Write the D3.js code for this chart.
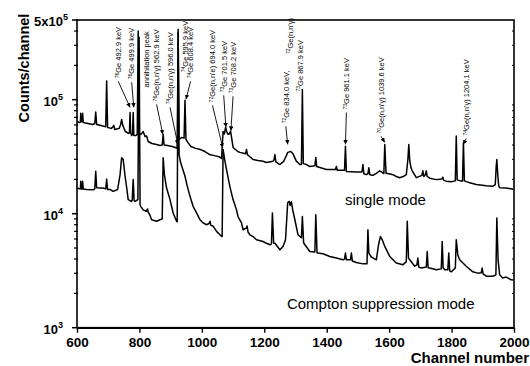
<!DOCTYPE html>
<html>
<head>
<meta charset="utf-8">
<script src="https://cdn.jsdelivr.net/npm/d3@7/dist/d3.min.js"></script>
<style>
  body { margin: 0; background: #fff; }
  svg { display: block; font-family: "Liberation Sans", Arial, sans-serif; }
  .tick-label { font-size: 13.5px; font-weight: bold; }
  .axis-title { font-weight: bold; }
  .mode-label { font-size: 15px; }
  .peak-label { font-size: 7.5px; }
</style>
</head>
<body>
<div id="chart"></div>
<script>
// Gamma spectrum: single mode vs Compton suppression mode

// [channel, counts/channel]
const singleSpectrum = [
  [600,64500],[608,63000],[611,63500],[612,76000],[614,64500],[617,64000],[618,76000],[620,63000],
  [635,61800],[650,60600],[657,61800],[660,78000],[663,60600],[680,59000],[692,58000],[695,146000],
  [698,57100],[710,56000],[716,58000],[718,59500],[721,54800],[735,56000],[740,60600],[743,67100],
  [747,59000],[755,52600],[765,50600],[768,51000],[770,77300],[772,51600],[775,48500],[778,50000],
  [780,77300],[782,48500],[789,48500],[793,49600],[796,400000],[799,50600],[805,49600],[812,52600],
  [818,47500],[823,48000],[828,43000],[840,41300],[855,40500],[866,39700],[873,40000],[876,49600],
  [879,40000],[890,39700],[905,38900],[915,38100],[921,37400],[924,391000],[927,44800],[935,46600],
  [943,46000],[946,98700],[949,44800],[955,42200],[965,38900],[980,37400],[995,36600],[1010,35100],
  [1025,33000],[1040,32300],[1055,31600],[1063,30500],[1068,52600],[1072,50000],[1076,57100],[1080,52000],
  [1084,49600],[1088,50000],[1092,53000],[1096,45000],[1100,38100],[1115,35100],[1122,34500],[1140,33500],
  [1143,36600],[1146,33000],[1164,29900],[1180,29300],[1196,28800],[1207,28100],[1228,28800],[1231,29500],
  [1234,33000],[1237,28500],[1250,27000],[1262,28800],[1270,32000],[1275,34500],[1285,35100],[1292,33500],
  [1303,28800],[1314,27000],[1319,27000],[1322,123000],[1325,27500],[1335,27000],[1346,25900],[1362,26300],
  [1365,31100],[1368,25900],[1378,25400],[1399,24400],[1420,24400],[1428,24400],[1431,26000],[1434,24000],
  [1442,24000],[1457,24000],[1460,39000],[1463,23400],[1480,23300],[1495,23200],[1513,23200],[1516,27000],
  [1519,22400],[1527,22000],[1532,22400],[1535,25300],[1538,22000],[1548,21700],[1559,22600],[1570,23800],
  [1580,22800],[1583,22500],[1586,40500],[1590,22600],[1600,22400],[1612,22000],[1623,21200],[1634,20700],
  [1645,21200],[1655,22000],[1660,29900],[1663,40500],[1666,29000],[1670,25400],[1674,23800],[1687,20700],
  [1705,21700],[1708,23800],[1711,21200],[1716,22000],[1719,23800],[1722,21200],[1730,20500],[1751,19900],
  [1769,20200],[1772,20900],[1775,19600],[1783,19300],[1799,19100],[1812,19400],[1815,48000],[1818,19800],
  [1828,19400],[1835,19400],[1838,41900],[1841,19400],[1847,19100],[1858,18700],[1879,18000],[1911,17600],
  [1932,17400],[1940,18000],[1943,26000],[1945,29900],[1948,22000],[1951,17500],[1954,16900],[1975,16800],
  [1998,16400]
];

const comptonSpectrum = [
  [600,16800],[609,16500],[611,16600],[612,19300],[614,16500],[617,16500],[618,19300],[620,16500],
  [631,16300],[652,16200],[657,16500],[660,23600],[663,16900],[675,16800],[683,16800],[692,16500],
  [695,20100],[698,16300],[706,16300],[716,15700],[730,16300],[738,22000],[743,31000],[748,29900],
  [754,21300],[760,16300],[764,13300],[770,13000],[775,12800],[777,13300],[780,19900],[783,13000],
  [786,12800],[795,13300],[799,353000],[802,12000],[804,11600],[812,10800],[822,10500],[826,11000],
  [828,10300],[833,9800],[839,8850],[855,8580],[866,8850],[873,9000],[876,31000],[880,22000],
  [887,16800],[898,13300],[908,10150],[919,8580],[921,8500],[924,415000],[927,33000],[932,28100],
  [936,25900],[946,21300],[952,18000],[962,14200],[972,11600],[983,10150],[994,8850],[1004,8300],
  [1015,8000],[1023,8200],[1026,8580],[1029,7900],[1036,7790],[1047,7000],[1058,6530],[1065,6300],
  [1068,36600],[1073,29900],[1079,24400],[1090,17200],[1100,13300],[1111,10800],[1116,9400],[1127,8300],
  [1132,7230],[1143,7500],[1145,7790],[1148,6900],[1154,6530],[1164,6300],[1175,5900],[1196,5700],
  [1207,5500],[1218,5340],[1223,5450],[1226,10150],[1230,5500],[1234,5500],[1250,4820],[1260,5160],
  [1268,5900],[1275,12500],[1280,12800],[1283,11800],[1287,12700],[1291,10800],[1298,8850],[1308,6530],
  [1319,6150],[1322,9460],[1326,5560],[1330,5340],[1346,4660],[1362,4620],[1365,9800],[1369,4540],
  [1372,4520],[1388,4450],[1410,4210],[1431,4080],[1452,3940],[1457,4000],[1460,4520],[1463,3940],
  [1476,3940],[1479,4520],[1482,3850],[1495,3730],[1516,3630],[1529,3630],[1532,7230],[1535,4500],
  [1543,4170],[1548,4100],[1559,3940],[1566,5340],[1572,6300],[1578,5900],[1586,5160],[1602,4210],
  [1623,3690],[1644,3560],[1655,3800],[1658,8580],[1662,4100],[1666,3940],[1682,3460],[1689,3560],
  [1692,4080],[1695,3400],[1703,3340],[1719,3400],[1722,4660],[1725,3350],[1730,3340],[1751,3220],
  [1767,3280],[1770,5700],[1773,3350],[1778,3220],[1788,3220],[1791,4520],[1794,3150],[1799,3090],
  [1812,3340],[1815,5900],[1820,4350],[1826,3940],[1847,3460],[1868,3090],[1884,3010],[1895,3030],
  [1898,3340],[1901,2970],[1911,2830],[1932,2830],[1942,2910],[1945,9150],[1949,3940],[1954,2910],
  [1964,2730],[1975,2780],[1991,2630],[1998,2620]
];

const xTickValues = [600, 800, 1000, 1200, 1400, 1600, 1800, 2000];
const yTickValues = [1e3, 1e4, 1e5, 5e5];
const yTickBases = ["10", "10", "10", "5x10"];
const yTickExponents = ["3", "4", "5", "5"];

// peak labels: mass number, text, label channel / bottom count, arrow tip channel / count
const peakMass = ["76", "76", "", "76", "74", "74", "74", "72", "73", "73", "72", "72", "73", "73", "70", "74"];
const peakText = ["Ge 492.9 keV", "Ge 499.9 keV", "annihilation peak", "Ge(n,n'\u03b3) 562.9 keV",
  "Ge(n,n'\u03b3) 596.0 keV", "Ge 595.9 keV", "Ge 608.4 keV", "Ge(n,n'e) 694.0 keV", "Ge 701.5 keV",
  "Ge 708.2 keV", "Ge 834.0 keV,", "Ge(n,n'\u03b3)", "Ge 867.9 keV", "Ge 961.1 keV",
  "Ge(n,n'\u03b3) 1039.6 keV", "Ge(n,n'\u03b3) 1204.1 keV"];
const peakLabelChannel = [732, 775, 821, 855, 898, 946, 964, 1034, 1070, 1100, 1269, 1283, 1314, 1463, 1574, 1847];
const peakLabelCount = [154000, 151000, 128000, 96600, 91000, 174000, 154000, 94700, 116000, 114000, 62000, 251000, 118000, 82000, 50600, 48500];
const peakTipChannel = [770, 782, null, 875, 923, null, 949, 1067, 1077, 1093, 1275, null, null, 1460, 1586, 1837];
const peakTipCount = [85500, 85500, null, 49600, 40500, null, 100700, 37800, 57100, 53300, 40500, null, null, 40500, 42200, 40500];

const margin = {top: 20, right: 16, bottom: 38.3, left: 77};
const width = 530 - margin.left - margin.right;
const height = 366 - margin.top - margin.bottom;

const svg = d3.select("#chart")
  .append("svg")
  .attr("width", 530)
  .attr("height", 366);

svg.append("defs").append("marker")
  .attr("id", "arrow")
  .attr("viewBox", "0 0 6 6")
  .attr("refX", 6)
  .attr("refY", 3)
  .attr("markerWidth", 5)
  .attr("markerHeight", 5)
  .attr("orient", "auto")
  .append("path")
  .attr("d", "M0,0 L6,3 L0,6 Z")
  .attr("fill", "#000");

const innerChart = svg.append("g")
  .attr("transform", `translate(${margin.left}, ${margin.top})`);

const xScale = d3.scaleLinear()
  .domain([600, 2000])
  .range([0, width]);

const yScale = d3.scaleLog()
  .domain([1e3, 5e5])
  .range([height, 0]);

// spectra
const line = d3.line()
  .x(d => xScale(d[0]))
  .y(d => yScale(d[1]));

[singleSpectrum, comptonSpectrum].forEach(series => {
  innerChart.append("path")
    .datum(series)
    .attr("d", line)
    .attr("fill", "none")
    .attr("stroke", "#000")
    .attr("stroke-width", 1.5)
    .attr("stroke-linejoin", "round");
});

// frame
innerChart.append("rect")
  .attr("width", width)
  .attr("height", height)
  .attr("fill", "none")
  .attr("stroke", "#000")
  .attr("stroke-width", 1.6);

// X axis
const xAxis = innerChart.append("g")
  .attr("transform", `translate(0, ${height})`)
  .call(d3.axisBottom(xScale)
    .tickValues(xTickValues)
    .tickFormat(d3.format("d"))
    .tickSize(5)
    .tickPadding(5)
    .tickSizeOuter(0));
xAxis.select(".domain").attr("stroke-width", 1.6);
xAxis.selectAll(".tick line").attr("stroke-width", 1.4);
xAxis.selectAll(".tick text")
  .attr("class", "tick-label")
  .attr("fill", "#000");

// Y axis minor ticks (left and right)
const minorTicks = yScale.ticks().filter(v => !yTickValues.includes(v));
innerChart.selectAll(".minor-left")
  .data(minorTicks)
  .join("line")
  .attr("x1", -3).attr("x2", 1)
  .attr("y1", d => yScale(d)).attr("y2", d => yScale(d))
  .attr("stroke", "#000").attr("stroke-width", 1.2);
innerChart.selectAll(".minor-right")
  .data(minorTicks)
  .join("line")
  .attr("x1", width - 2).attr("x2", width)
  .attr("y1", d => yScale(d)).attr("y2", d => yScale(d))
  .attr("stroke", "#000").attr("stroke-width", 1);

// Y axis major ticks + labels
innerChart.selectAll(".major-left")
  .data(yTickValues)
  .join("line")
  .attr("x1", -5).attr("x2", 1)
  .attr("y1", d => yScale(d)).attr("y2", d => yScale(d))
  .attr("stroke", "#000").attr("stroke-width", 1.5);

const yLabels = innerChart.selectAll(".y-label")
  .data(yTickValues)
  .join("text")
  .attr("x", (d, i) => i === 3 ? -9 : -14)
  .attr("y", d => yScale(d) + 6)
  .attr("text-anchor", "end")
  .attr("font-weight", "bold")
  .attr("font-size", 13);
yLabels.append("tspan").text((d, i) => yTickBases[i]);
yLabels.append("tspan")
  .attr("dy", -6)
  .attr("font-size", 9)
  .text((d, i) => yTickExponents[i]);

// Axis titles
svg.append("text")
  .attr("class", "axis-title")
  .attr("transform", "translate(29, 68) rotate(-90)")
  .attr("text-anchor", "middle")
  .attr("font-size", 14.5)
  .text("Counts/channel");

svg.append("text")
  .attr("class", "axis-title")
  .attr("x", 529)
  .attr("y", 363)
  .attr("text-anchor", "end")
  .attr("font-size", 15)
  .text("Channel number");

// mode labels
innerChart.append("text")
  .attr("class", "mode-label")
  .attr("x", xScale(1588))
  .attr("y", yScale(11800))
  .attr("text-anchor", "middle")
  .text("single mode");

innerChart.append("text")
  .attr("class", "mode-label")
  .attr("x", xScale(1573))
  .attr("y", yScale(1470))
  .attr("text-anchor", "middle")
  .text("Compton suppression mode");

// peak annotations
const peaks = peakText.map((t, i) => ({
  mass: peakMass[i], text: t,
  ch: peakLabelChannel[i], count: peakLabelCount[i],
  tipCh: peakTipChannel[i], tipCount: peakTipCount[i]
}));

peaks.filter(d => d.tipCh !== null).forEach(d => {
  innerChart.append("line")
    .attr("x1", xScale(d.ch))
    .attr("y1", yScale(d.count) + 3)
    .attr("x2", xScale(d.tipCh))
    .attr("y2", yScale(d.tipCount))
    .attr("stroke", "#000")
    .attr("stroke-width", 0.9)
    .attr("marker-end", "url(#arrow)");
});

const labelGroups = innerChart.selectAll(".peak-label")
  .data(peaks)
  .join("text")
  .attr("class", "peak-label")
  .attr("transform", d => `translate(${xScale(d.ch) + 2.8}, ${yScale(d.count)}) rotate(-90)`);

labelGroups.append("tspan")
  .attr("font-size", 5)
  .attr("dy", -2.5)
  .text(d => d.mass);
labelGroups.append("tspan")
  .attr("dy", d => d.mass ? 2.5 : 0)
  .text(d => d.text);
</script>
</body>
</html>
